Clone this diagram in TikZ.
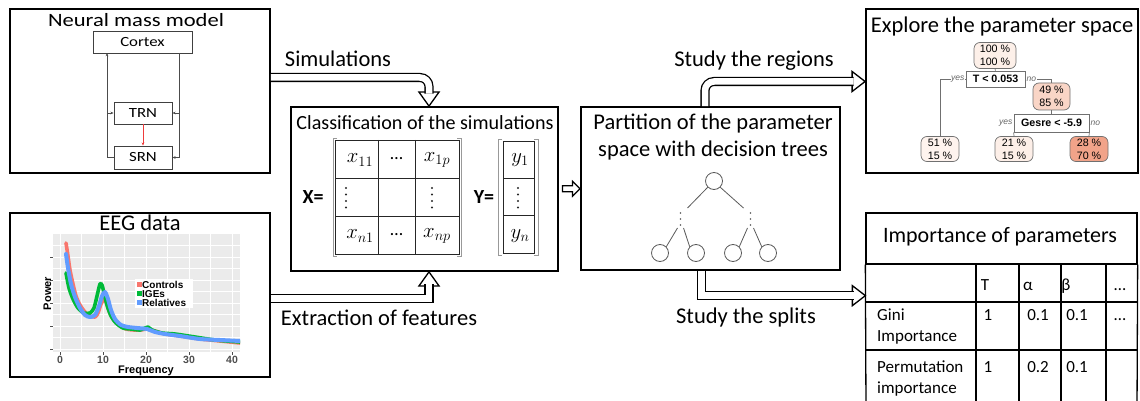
\documentclass[tikz,border=0pt]{standalone}
\usepackage{fontspec}
\setmainfont{Carlito}
\newfontfamily\nmmfont[FakeStretch=1.2]{Carlito}
\newfontfamily\plotfont{Liberation Sans}
\usetikzlibrary{calc,arrows.meta}
\definecolor{ggred}{HTML}{F8766D}
\definecolor{gggreen}{HTML}{00BA38}
\definecolor{ggblue}{HTML}{619CFF}
\definecolor{ggbg}{HTML}{EBEBEB}
\definecolor{ggtick}{HTML}{4D4D4D}
\definecolor{leafA}{HTML}{FDF0E9}
\definecolor{leafB}{HTML}{F9D5C6}
\definecolor{leafC}{HTML}{FEF3EE}
\definecolor{leafD}{HTML}{FDEFE8}
\definecolor{leafE}{HTML}{F1A389}
\definecolor{branch}{HTML}{707070}
\definecolor{inhib}{HTML}{EE3B3B}
\begin{document}
\begin{tikzpicture}[x=1pt,y=-1pt,
  panel/.style={draw, line width=1.8pt, inner sep=0pt},
  big/.style={font=\fontsize{22.5}{26}\selectfont},
  nmmbox/.style={draw=black!75, line width=0.8pt, inner sep=0pt, font=\nmmfont\fontsize{14}{16}\selectfont},
  nmml/.style={draw=black!70, line width=0.8pt, -{Stealth[length=3.2pt,width=2.6pt]}},
  dbl/.style={draw=black, line width=1.3pt, double=white, double distance=6.5pt},
  headtri/.style={fill=white, draw=black, line width=1.3pt, line join=miter},
  gridl/.style={draw=black!85, line width=0.9pt},
  brk/.style={draw=black!40, line width=0.9pt},
  mtx/.style={font=\fontsize{22}{24}\selectfont},
  vdot/.style={fill=black!85},
  tc/.style={circle, draw=black!65, line width=0.8pt, minimum size=17pt, inner sep=0pt},
  tl/.style={draw=black!65, line width=0.8pt},
  tnode/.style={draw=branch, line width=0.7pt, rounded corners=6pt, inner sep=0pt, align=center,
    font=\plotfont\fontsize{10.7}{13}\selectfont},
  tsplit/.style={draw=branch, fill=white, line width=0.7pt, inner sep=0pt,
    font=\plotfont\bfseries\fontsize{10.7}{12}\selectfont},
  tbr/.style={draw=branch, line width=0.7pt},
  yn/.style={fill=white, inner sep=0.6pt, text=black!60, font=\plotfont\itshape\fontsize{8.5}{9}\selectfont},
  tabl/.style={draw=black, line width=1.3pt},
  cell/.style={font=\fontsize{17}{19}\selectfont, inner sep=0pt},
  axlab/.style={font=\plotfont\bfseries\fontsize{11}{12}\selectfont, inner sep=0pt},
  leglab/.style={font=\plotfont\bfseries\fontsize{10}{11}\selectfont, inner sep=0pt},
  ticklab/.style={text=ggtick, font=\plotfont\bfseries\fontsize{10.5}{12}\selectfont, inner sep=0pt},
  curve/.style={line width=3.6pt, line cap=round, line join=round}
]
\useasboundingbox (0,0) rectangle (1140,401);

% ---------- main panels ----------
\node[panel, minimum width=260pt, minimum height=164pt] (nmm) at (140,91) {};
\node[panel, minimum width=260pt, minimum height=164pt] (eeg) at (140,295) {};
\node[panel, minimum width=267pt, minimum height=164pt] (cls) at (424.5,189) {};
\node[panel, minimum width=259pt, minimum height=163pt] (part) at (710.5,188.5) {};
\node[panel, minimum width=272pt, minimum height=164pt] (exp) at (1002,91) {};

% ---------- neural mass model ----------
\node[anchor=base, inner sep=0pt, font=\nmmfont\fontsize{18.8}{20}\selectfont] (nmmtitle) at (136,27) {Neural mass model};
\node[nmmbox, minimum width=99pt, minimum height=22pt] (cortex) at (142.5,42) {Cortex};
\node[nmmbox, minimum width=58pt, minimum height=22pt] (trn) at (143,113) {TRN};
\node[nmmbox, minimum width=58pt, minimum height=23pt] (srn) at (143,157.5) {SRN};
\coordinate (lbus) at (107,53);
\coordinate (rbus) at (179,53);
\draw[nmml] (srn.west) -| (lbus);
\draw[nmml] (lbus |- trn.west) -- (trn.west);
\draw[nmml] (rbus) |- (srn.east);
\draw[nmml] (rbus |- trn.east) -- (trn.east);
\draw[nmml, draw=inhib, line width=0.8pt] (trn) -- (srn);

% ---------- EEG data ----------
\node[big, anchor=base, inner sep=0pt] (eegtitle) at (140,230) {EEG data};
\fill[ggbg] (53,234) rectangle (240,352);
\foreach \gx in {81.5,124.5,167.5,210.5} \draw[white, line width=0.3pt] (\gx,234) -- (\gx,352);
\foreach \gy in {245.5,268.5,291.5,314.5,337.5} \draw[white, line width=0.3pt] (53,\gy) -- (240,\gy);
\foreach \gx in {60,103,146,189,232} \draw[white, line width=0.6pt] (\gx,234) -- (\gx,352);
\foreach \gy in {257,280,303,326,349} \draw[white, line width=0.6pt] (53,\gy) -- (240,\gy);
\foreach \gy in {257,280,303,326,349} \draw[ggtick, line width=0.6pt] (50,\gy) -- (53,\gy);
\foreach \gx/\lab in {60/0,103/10,146/20,189/30,232/40} {
  \draw[ggtick, line width=0.6pt] (\gx,352) -- (\gx,355);
  \node[ticklab, anchor=base] at (\gx,363.5) {\lab};
}
\begin{scope}
\clip (53,234) rectangle (240,352);
\draw[curve, ggred] plot[smooth, tension=0.45] coordinates {(66,243) (68,256) (70,270) (73,284) (76,296) (80,305) (85,312) (90,316) (95,317) (98,313) (101,304) (104,299) (106,302) (109,311) (113,319) (119,325) (126,329) (134,330) (141,330) (147,329) (155,331) (165,334) (180,336) (200,339) (220,341) (240,343)};
\draw[curve, gggreen] plot[smooth, tension=0.45] coordinates {(66,273) (69,288) (73,299) (78,308) (84,313) (90,313) (94,308) (97,296) (100,284) (102,285) (104,293) (107,305) (111,316) (116,323) (123,328) (131,329) (140,330) (145,328) (148,327) (152,330) (162,333) (175,334) (195,337) (215,340) (240,342)};
\draw[curve, ggblue, line width=4pt] plot[smooth, tension=0.45] coordinates {(66,254) (68,268) (71,284) (75,297) (80,308) (85,315) (90,317) (95,315) (99,306) (102,296) (105,292) (108,299) (111,310) (115,319) (121,325) (128,327) (137,328) (147,329) (155,332) (165,334) (180,336) (200,339) (220,340) (240,341)};
\end{scope}
\fill[white] (135,279) rectangle (193,308);
\fill[ggred] (137,282) rectangle (142,287);
\fill[gggreen] (137,291) rectangle (142,296);
\fill[ggblue] (137,300) rectangle (142,305);
\node[leglab, anchor=base west] at (142,288) {Controls};
\node[leglab, anchor=base west] at (142,297) {IGEs};
\node[leglab, anchor=base west] at (142,306) {Relatives};
\node[axlab, anchor=base] at (146,373.8) {Frequency};
\node[axlab, rotate=90] at (47.5,293.5) {Power};

% ---------- classification ----------
\node[anchor=base, inner sep=0pt, font=\fontsize{20.1}{22}\selectfont] (clstitle) at (425,129) {Classification of the simulations};
\draw[gridl] (335,140) rectangle (459,254);
\draw[gridl] (378,140) -- (378,254) (415,140) -- (415,254) (335,178) -- (459,178) (335,216) -- (459,216);
\draw[brk] (337,138) -- (333,138) -- (333,256) -- (337,256);
\draw[brk] (457,138) -- (461,138) -- (461,256) -- (457,256);
\draw[gridl] (503,141) rectangle (534,253);
\draw[gridl] (503,178) -- (534,178) (503,215) -- (534,215);
\draw[brk] (502,139) -- (498,139) -- (498,255) -- (502,255);
\draw[brk] (534,139) -- (538,139) -- (538,255) -- (534,255);
\node[font=\bfseries\fontsize{20}{22}\selectfont, inner sep=0pt] at (313,197) {X=};
\node[font=\bfseries\fontsize{20}{22}\selectfont, inner sep=0pt] at (484,197) {Y=};
\node[mtx] at (360,160) {$x_{11}$};
\node[mtx, font=\fontsize{18}{20}\selectfont] at (396.5,159) {…};
\node[mtx] at (437,160) {$x_{1p}$};
\node[mtx] at (360,236) {$x_{n1}$};
\node[mtx, font=\fontsize{18}{20}\selectfont] at (396.5,235) {…};
\node[mtx] at (437,236) {$x_{np}$};
\node[mtx] at (520,160) {$y_1$};
\node[mtx] at (520,236) {$y_n$};
% vertical ellipses in the middle row
\foreach \vx in {346,432,518}
  \foreach \vy in {188,194.5,201,207.5}
    \fill[vdot] (\vx,\vy) circle (1.1pt);

% ---------- partition ----------
\node[big, anchor=base, inner sep=0pt] (parttitle) at (713,129) {Partition of the parameter};
\node[big, anchor=base, inner sep=0pt] (parttitleb) at (713,157) {space with decision trees};
\node[tc] (troot) at (714,181) {};
\node[tc] (lfA) at (660,253) {};
\node[tc] (lfB) at (696,253) {};
\node[tc] (lfC) at (733,253) {};
\node[tc] (lfD) at (768,253) {};
\coordinate (dl) at (680.5,213);
\coordinate (dr) at (750.5,213);
\draw[tl] (troot.south west) -- ($(dl)+(7,-5)$);
\draw[tl] (troot.south east) -- ($(dr)+(-7,-5)$);
\foreach \dd in {0,6,12} {
  \fill[black!65] ($(dl)+(0,\dd)$) circle (0.8pt);
  \fill[black!65] ($(dr)+(0,\dd)$) circle (0.8pt);
}
\draw[tl] ($(dl)+(-3,15)$) -- (lfA.north east);
\draw[tl] ($(dl)+(3,15)$) -- (lfB.north west);
\draw[tl] ($(dr)+(-3,15)$) -- (lfC.north east);
\draw[tl] ($(dr)+(3,15)$) -- (lfD.north west);

% small block arrow between the two middle panels
\coordinate (ba) at ($(cls.east)!0.5!(part.west)$);
\draw[headtri, line width=1.1pt] ($(ba)+(-7,-3)$) -- ++(10,0) -- ++(0,-4.5) -- ++(7.5,7.5) -- ++(-7.5,7.5) -- ++(0,-4.5) -- ++(-10,0) -- cycle;

% ---------- explore the parameter space ----------
\node[big, anchor=base, inner sep=0pt] (exptitle) at (1002,33) {Explore the parameter space};
\node[tnode, fill=leafA, minimum width=42pt, minimum height=26pt] (root) at (995,55.5) {100 \%\\100 \%};
\node[tsplit, minimum width=59pt, minimum height=16pt] (s1) at (995.5,79) {T < 0.053};
\node[tnode, fill=leafB, minimum width=37pt, minimum height=27pt] (n49) at (1051.5,96.5) {49 \%\\85 \%};
\node[tsplit, minimum width=75pt, minimum height=18pt] (s2) at (1051.5,123) {Gesre < -5.9};
\node[tnode, fill=leafC, minimum width=38pt, minimum height=25pt] (n51) at (940,149) {51 \%\\15 \%};
\node[tnode, fill=leafD, minimum width=38pt, minimum height=25pt] (n21) at (1014,149) {21 \%\\15 \%};
\node[tnode, fill=leafE, minimum width=38pt, minimum height=25pt] (n28) at (1089,149) {28 \%\\70 \%};
\draw[tbr] (root.south) -- (s1.north);
\draw[tbr] (s1.west) -| (n51.north);
\draw[tbr] (s1.east) -| (n49.north);
\draw[tbr] (n49.south) -- (s2.north);
\draw[tbr] (s2.south west) -- (n21.north);
\draw[tbr] (s2.south east) -- (n28.north);
\node[yn, anchor=east] at ([xshift=-0.5pt]s1.west) {yes};
\node[yn, anchor=west] at ([xshift=0.5pt]s1.east) {no};
\node[yn, anchor=east] at ([xshift=-0.5pt]s2.west) {yes};
\node[yn, anchor=west] at ([xshift=0.5pt]s2.east) {no};

% ---------- importance table ----------
\node[tabl, minimum width=271pt, minimum height=51pt, inner sep=0pt] (imp) at (1001.5,238.5) {};
\node[anchor=base, inner sep=0pt, font=\fontsize{22}{24}\selectfont] at (1000,242) {Importance of parameters};
\draw[tabl] (imp.south west) -- (866,410) (imp.south east) -- (1137,410);
\draw[tabl] (866,302) -- (1137,302) (866,350) -- (1137,350);
\foreach \cx in {976,1019,1061,1106} \draw[tabl] (\cx,264) -- (\cx,410);
\node[cell, anchor=base] at (985,290) {T};
\node[cell, anchor=base] at (1028,290) {α};
\node[cell, anchor=base] at (1066,290) {β};
\node[cell, anchor=base] at (1120,290) {…};
\node[cell, anchor=base west] at (877,320) {Gini};
\node[cell, anchor=base west] at (877,341) {Importance};
\node[cell, anchor=base] at (988,320) {1};
\node[cell, anchor=base] at (1038,320) {0.1};
\node[cell, anchor=base] at (1077,320) {0.1};
\node[cell, anchor=base] at (1120,320) {…};
\node[cell, anchor=base west] at (877,372) {Permutation};
\node[cell, anchor=base west] at (877,393) {importance};
\node[cell, anchor=base] at (988,372) {1};
\node[cell, anchor=base] at (1038,372) {0.2};
\node[cell, anchor=base] at (1077,372) {0.1};

% ---------- flow arrows ----------
\node[big, anchor=base, inner sep=0pt] at (338,67) {Simulations};
\coordinate (t1) at ([xshift=4.5pt]cls.north);
\draw[headtri] ($(t1)+(-10,-14)$) -- (t1) -- ($(t1)+(10,-14)$) -- cycle;
\draw[dbl, rounded corners=9pt] ([yshift=13.5pt]nmm.east) -| ($(t1)+(0,-12.5)$);

\node[big, anchor=base, inner sep=0pt] at (379,325) {Extraction of features};
\coordinate (t2) at ([xshift=4.5pt]cls.south);
\draw[headtri] ($(t2)+(-10,14)$) -- (t2) -- ($(t2)+(10,14)$) -- cycle;
\draw[dbl] ([yshift=-3.5pt]eeg.east) -| ($(t2)+(0,12.5)$);

\node[big, anchor=base, inner sep=0pt] at (754,67) {Study the regions};
\coordinate (t3) at ([yshift=9.5pt]exp.west);
\draw[headtri] ($(t3)+(-13,-10)$) -- (t3) -- ($(t3)+(-13,10)$) -- cycle;
\draw[dbl, rounded corners=9pt] ([xshift=-5.5pt]part.north) |- ($(t3)+(-11.5,0)$);

\node[big, anchor=base, inner sep=0pt] at (746,323) {Study the splits};
\coordinate (t4) at ([yshift=-31pt]imp.south west);
\draw[headtri] ($(t4)+(-13,-10)$) -- (t4) -- ($(t4)+(-13,10)$) -- cycle;
\draw[dbl] ([xshift=-9pt]part.south) |- ($(t4)+(-11.5,0)$);
\end{tikzpicture}
\end{document}
